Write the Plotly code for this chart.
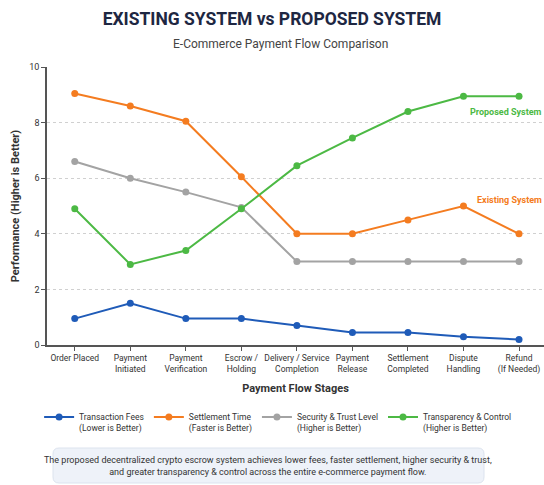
import plotly.graph_objects as go

stages = ["Order Placed", "Payment<br>Initiated", "Payment<br>Verification", "Escrow /<br>Holding",
          "Delivery / Service<br>Completion", "Payment<br>Release", "Settlement<br>Completed",
          "Dispute<br>Handling", "Refund<br>(If Needed)"]
transaction_fees = [0.95, 1.5, 0.95, 0.95, 0.7, 0.45, 0.45, 0.3, 0.2]
settlement_time = [9.05, 8.6, 8.05, 6.05, 4.0, 4.0, 4.5, 5.0, 4.0]
security_trust = [6.6, 6.0, 5.5, 4.95, 3.0, 3.0, 3.0, 3.0, 3.0]
transparency = [4.9, 2.9, 3.4, 4.9, 6.45, 7.45, 8.4, 8.95, 8.95]

series = [
    ("Transaction Fees<br>(Lower is Better)", transaction_fees, "#1f5bb8"),
    ("Settlement Time<br>(Faster is Better)", settlement_time, "#f47c20"),
    ("Security & Trust Level<br>(Higher is Better)", security_trust, "#a3a3a3"),
    ("Transparency & Control<br>(Higher is Better)", transparency, "#4cb944"),
]

W, H = 544, 485
L, R, T, B = 47, 0, 67, 140
pw, ph = W - L - R, H - T - B

def px(xp):
    return (xp - L) / pw

def py(yp):
    return (H - B - yp) / ph

fig = go.Figure()
idx = list(range(len(stages)))
for name, vals, col in series:
    fig.add_trace(go.Scatter(x=idx, y=vals, name=name, mode="lines+markers",
                             line=dict(color=col, width=2),
                             marker=dict(color=col, size=7)))

# rounded box path (paper coords)
x0, x1, y0, y1, r = 53, 484, 448, 483, 6
rx, ry = r / pw, r / ph
X0, X1, Y0, Y1 = px(x0), px(x1), py(y1), py(y0)
path = (f"M {X0+rx} {Y1} L {X1-rx} {Y1} Q {X1} {Y1} {X1} {Y1-ry} "
        f"L {X1} {Y0+ry} Q {X1} {Y0} {X1-rx} {Y0} L {X0+rx} {Y0} "
        f"Q {X0} {Y0} {X0} {Y0+ry} L {X0} {Y1-ry} Q {X0} {Y1} {X0+rx} {Y1} Z")

fig.update_layout(
    width=W, height=H,
    margin=dict(l=L, r=R, t=T, b=B),
    paper_bgcolor="white", plot_bgcolor="white",
    font=dict(family="Roboto, Inter, sans-serif", color="#333333", size=9),
    title=dict(text="<b>EXISTING SYSTEM vs PROPOSED SYSTEM</b>", x=0.5, xanchor="center",
               y=1 - 19 / H, yanchor="middle",
               font=dict(family="Roboto, sans-serif", size=17.5, color="#1e2742", weight=900)),
    showlegend=True,
    legend=dict(orientation="h", x=0.465, xanchor="center", y=py(405), yanchor="top",
                font=dict(size=8.5, color="#333333"), valign="top", itemwidth=30,
                bgcolor="rgba(0,0,0,0)"),
    xaxis=dict(range=[-0.5, 8.45], tickvals=idx, ticktext=stages, showgrid=False,
               showline=True, linecolor="#555555", linewidth=1.5, ticks="outside",
               ticklen=4, tickcolor="#555555", tickfont=dict(size=8.5, color="#333333"),
               zeroline=False,
               title=dict(text="<b>Payment Flow Stages</b>", font=dict(size=11, color="#333333"), standoff=10)),
    yaxis=dict(range=[0, 10], tickvals=[0, 2, 4, 6, 8, 10], showgrid=True,
               gridcolor="#d0d0d0", griddash="dot", gridwidth=1,
               showline=True, linecolor="#555555", linewidth=1.5, ticks="outside",
               ticklen=4, tickcolor="#555555", tickfont=dict(size=9, color="#333333"),
               zeroline=False,
               title=dict(text="<b>Performance (Higher is Better)</b>", font=dict(size=11, color="#333333"), standoff=7)),
    shapes=[dict(type="path", path=path, xref="paper", yref="paper",
                 fillcolor="#eef2f9", line=dict(color="#dce3ee", width=1), layer="below")],
    annotations=[
        dict(text="E-Commerce Payment Flow Comparison", xref="paper", yref="paper",
             x=px(280), y=py(44), xanchor="center", yanchor="middle", showarrow=False,
             font=dict(size=12, color="#444444")),
        dict(text="<b>Proposed System</b>", xref="paper", yref="paper", x=1.0, y=py(112),
             xanchor="right", yanchor="middle", showarrow=False,
             font=dict(size=9, color="#4cb944")),
        dict(text="<b>Existing System</b>", xref="paper", yref="paper", x=1.0, y=py(200),
             xanchor="right", yanchor="middle", showarrow=False,
             font=dict(size=9, color="#f47c20")),
        dict(text="The proposed decentralized crypto escrow system achieves lower fees, faster settlement, higher security &amp; trust,<br>and greater transparency &amp; control across the entire e-commerce payment flow.",
             xref="paper", yref="paper", x=px(268), y=py(466), xanchor="center", yanchor="middle",
             showarrow=False, align="center", font=dict(size=9, color="#333333")),
    ],
)

fig.write_html("out.html")
